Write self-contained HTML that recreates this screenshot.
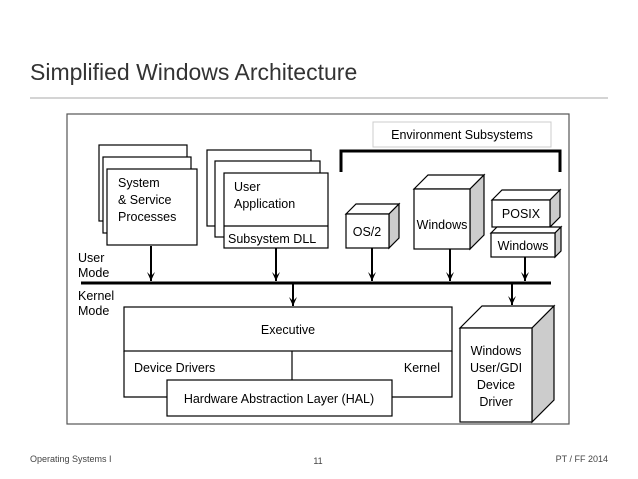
<!DOCTYPE html>
<html><head><meta charset="utf-8"><style>
body{margin:0;background:#fff;width:638px;height:479px;overflow:hidden}
svg{display:block;font-family:"Liberation Sans",sans-serif}
</style></head><body>
<svg width="638" height="479" viewBox="0 0 638 479">
<defs><marker id="a" markerWidth="10" markerHeight="8" refX="9" refY="4" orient="auto" markerUnits="userSpaceOnUse"><path d="M0,0 L9,4 L0,8 L4,4 Z" fill="#000"/></marker></defs>
<text x="30" y="80" font-size="23" fill="#333">Simplified Windows Architecture</text>
<line x1="30" y1="98" x2="608" y2="98" stroke="#aaa" stroke-width="1"/>
<rect x="67" y="114" width="502" height="310" fill="#fff" stroke="#555" stroke-width="1.2"/>
<g stroke="#000" stroke-width="1.2" fill="#fff">
<rect x="99" y="145" width="88" height="76"/>
<rect x="103" y="157" width="88" height="76"/>
<rect x="107" y="169" width="90" height="76"/>
<rect x="207" y="150" width="104" height="76"/>
<rect x="215" y="161" width="105" height="76"/>
<rect x="224" y="173" width="104" height="75"/>
<line x1="224" y1="226" x2="328" y2="226"/>
</g>
<g font-size="12.5" fill="#000">
<text x="118" y="187">System</text><text x="118" y="204">&amp; Service</text><text x="118" y="221">Processes</text>
<text x="234" y="191">User</text><text x="234" y="208">Application</text><text x="228" y="243">Subsystem DLL</text>
</g>
<rect x="373" y="122" width="178" height="25" fill="#fff" stroke="#ccc"/>
<text x="462" y="139" font-size="12.5" text-anchor="middle">Environment Subsystems</text>
<path d="M341,172 V151 H560 V172" fill="none" stroke="#000" stroke-width="3"/>
<g stroke="#000" stroke-width="1.2">
<path d="M346,214 L356,204 H399 L389,214 Z" fill="#fff"/><path d="M389,214 L399,204 V238 L389,248 Z" fill="#ccc"/><rect x="346" y="214" width="43" height="34" fill="#fff"/>
<path d="M414,189 L428,175 H484 L470,189 Z" fill="#fff"/><path d="M470,189 L484,175 V235 L470,249 Z" fill="#ccc"/><rect x="414" y="189" width="56" height="60" fill="#fff"/>
<path d="M492,200 L502,190 H560 L550,200 Z" fill="#fff"/><path d="M550,200 L560,190 V217 L550,227 Z" fill="#ccc"/><rect x="492" y="200" width="58" height="27" fill="#fff"/>
<path d="M491,233 L497,227 H561 L555,233 Z" fill="#fff"/><path d="M555,233 L561,227 V251 L555,257 Z" fill="#ccc"/><rect x="491" y="233" width="64" height="24" fill="#fff"/>
<path d="M460,328 L482,306 H554 L532,328 Z" fill="#fff"/><path d="M532,328 L554,306 V400 L532,422 Z" fill="#ccc"/><rect x="460" y="328" width="72" height="94" fill="#fff"/>
</g>
<g font-size="12.5" fill="#000" text-anchor="middle">
<text x="367" y="236">OS/2</text><text x="442" y="229">Windows</text><text x="521" y="218">POSIX</text><text x="523" y="250">Windows</text>
<text x="496" y="355">Windows</text><text x="496" y="372">User/GDI</text><text x="496" y="389">Device</text><text x="496" y="406">Driver</text>
</g>
<line x1="81" y1="283" x2="551" y2="283" stroke="#000" stroke-width="3"/>
<g stroke="#000" stroke-width="2" marker-end="url(#a)">
<line x1="151" y1="246" x2="151" y2="281"/><line x1="276" y1="248" x2="276" y2="281"/>
<line x1="372" y1="248" x2="372" y2="281"/><line x1="450" y1="249" x2="450" y2="281"/><line x1="525" y1="257" x2="525" y2="281"/>
<line x1="293" y1="284" x2="293" y2="306"/><line x1="512" y1="284" x2="512" y2="305"/>
</g>
<g font-size="12.5" fill="#000">
<text x="78" y="262">User</text><text x="78" y="277">Mode</text><text x="78" y="300">Kernel</text><text x="78" y="315">Mode</text>
</g>
<g stroke="#000" stroke-width="1.2" fill="none">
<rect x="124" y="307" width="328" height="44" fill="#fff"/>
<path d="M124,351 V397 H167 M392,397 H452 V351"/>
<line x1="292" y1="351" x2="292" y2="380"/>
<rect x="167" y="380" width="225" height="36" fill="#fff"/>
</g>
<g font-size="12.5" fill="#000">
<text x="288" y="334" text-anchor="middle">Executive</text>
<text x="134" y="372">Device Drivers</text><text x="440" y="372" text-anchor="end">Kernel</text>
<text x="279" y="403" text-anchor="middle">Hardware Abstraction Layer (HAL)</text>
</g>
<g font-size="9" fill="#444">
<text x="30" y="462">Operating Systems I</text><text x="318" y="464" text-anchor="middle">11</text><text x="608" y="462" text-anchor="end">PT / FF 2014</text>
</g>
</svg>
</body></html>
